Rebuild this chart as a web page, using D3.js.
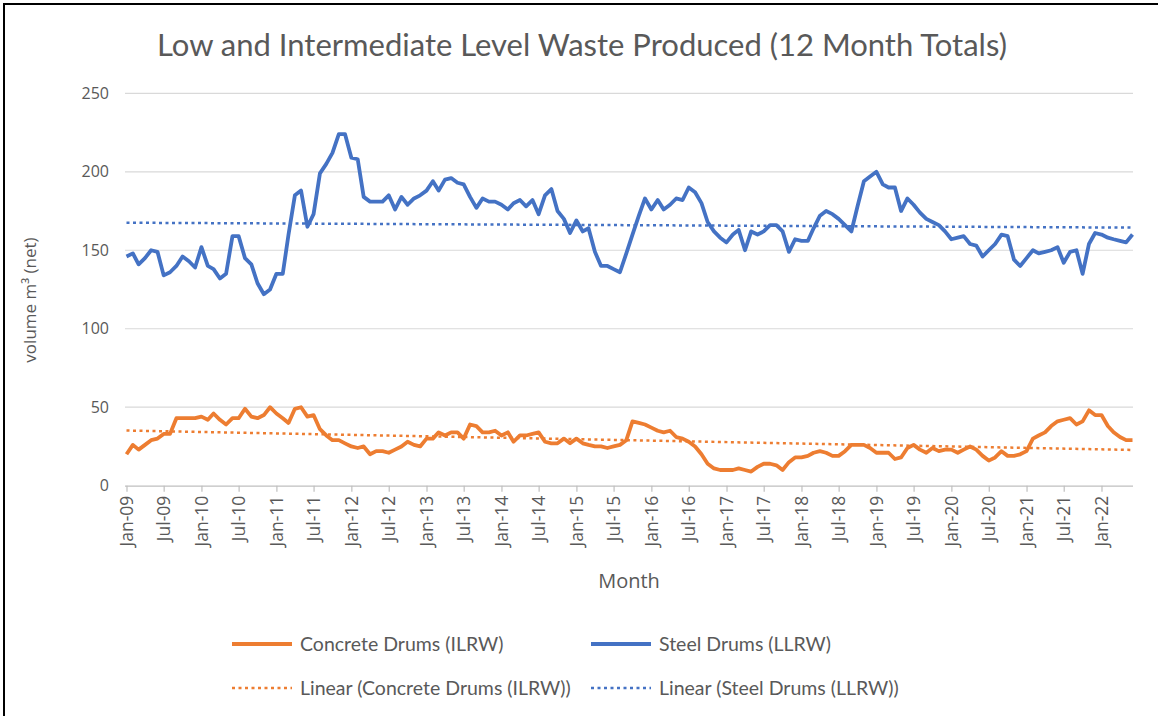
<!DOCTYPE html>
<html>
<head>
<meta charset="utf-8">
<script src="https://cdn.jsdelivr.net/npm/d3@7"></script>
<style>
  body { margin: 0; background: #fff; }
  svg { display: block; font-family: "Open Sans", sans-serif; }
</style>
</head>
<body>
<svg id="chart" width="1158" height="716"></svg>
<script>
// Low and Intermediate Level Waste Produced - 12 month totals, Jan-09 .. Jun-22

const firstMonth = new Date(2009, 0, 1);
const lastMonth = new Date(2022, 5, 1);
const months = d3.timeMonth.range(firstMonth, d3.timeMonth.offset(lastMonth, 1));

// Steel Drums (LLRW), m3 net
const steelDrums = [
  146, 148, 141, 145, 150, 149, 134, 136, 140, 146,
  143, 139, 152, 140, 138, 132, 135, 159, 159, 145,
  141, 129, 122, 125, 135, 135, 160, 185, 188, 165,
  173, 199, 205, 212, 224, 224, 209, 208, 184, 181,
  181, 181, 185, 176, 184, 179, 183, 185, 188, 194,
  188, 195, 196, 193, 192, 184, 177, 183, 181, 181,
  179, 176, 180, 182, 178, 182, 173, 185, 189, 175,
  170, 161, 169, 162, 164, 149, 140, 140, 138, 136,
  148, 160, 172, 183, 176, 182, 176, 179, 183, 182,
  190, 187, 180, 168, 162, 158, 155, 160, 163, 150,
  162, 160, 162, 166, 166, 162, 149, 157, 156, 156,
  164, 172, 175, 173, 170, 166, 162, 178, 194, 197,
  200, 192, 190, 190, 175, 183, 179, 174, 170, 168,
  166, 162, 157, 158, 159, 154, 153, 146, 150, 154,
  160, 159, 144, 140, 145, 150, 148, 149, 150, 152,
  142, 149, 150, 135, 154, 161, 160, 158, 157, 156,
  155, 160
];

// Concrete Drums (ILRW), m3 net
const concreteDrums = [
  20, 26, 23, 26, 29, 30, 33, 33, 43, 43,
  43, 43, 44, 42, 46, 42, 39, 43, 43, 49,
  44, 43, 45, 50, 46, 43, 40, 49, 50, 44,
  45, 36, 32, 29, 29, 27, 25, 24, 25, 20,
  22, 22, 21, 23, 25, 28, 26, 25, 30, 30,
  34, 32, 34, 34, 30, 39, 38, 34, 34, 35,
  32, 34, 28, 32, 32, 33, 34, 28, 27, 27,
  30, 27, 30, 27, 26, 25, 25, 24, 25, 26,
  29, 41, 40, 39, 37, 35, 34, 35, 31, 30,
  28, 25, 20, 14, 11, 10, 10, 10, 11, 10,
  9, 12, 14, 14, 13, 10, 15, 18, 18, 19,
  21, 22, 21, 19, 19, 22, 26, 26, 26, 24,
  21, 21, 21, 17, 18, 24, 26, 23, 21, 24,
  22, 23, 23, 21, 23, 25, 23, 19, 16, 18,
  22, 19, 19, 20, 22, 30, 32, 34, 38, 41,
  42, 43, 39, 41, 48, 45, 45, 38, 34, 31,
  29, 29
];

const yTicks = [0, 50, 100, 150, 200, 250];

const seriesNames = ["Concrete Drums (ILRW)", "Steel Drums (LLRW)"];
const trendNames = ["Linear (Concrete Drums (ILRW))", "Linear (Steel Drums (LLRW))"];
const seriesColors = ["#ED7D31", "#4472C4"];

const svg = d3.select("#chart");

// frame
svg.append("path")
  .attr("d", "M4,716 L4,4 L1158,4")
  .attr("fill", "none")
  .attr("stroke", "#000")
  .attr("stroke-width", 2);

const x = d3.scaleTime().domain([firstMonth, lastMonth]).range([126.5, 1132.5]);
const y = d3.scaleLinear().domain([0, 250]).range([485.7, 93.3]);

// title
svg.append("text")
  .attr("x", 582).attr("y", 56)
  .attr("text-anchor", "middle")
  .style("font-family", "Lato, sans-serif")
  .style("font-size", "31px")
  .style("fill", "#595959")
  .text("Low and Intermediate Level Waste Produced (12 Month Totals)");

// gridlines
svg.append("g")
  .selectAll("line")
  .data(yTicks.filter(d => d > 0))
  .join("line")
  .attr("x1", 125).attr("x2", 1133)
  .attr("y1", d => y(d)).attr("y2", d => y(d))
  .attr("stroke", "#d9d9d9")
  .attr("stroke-width", 1.2);

// y axis labels
const yAxis = svg.append("g")
  .attr("transform", "translate(109,0)")
  .call(d3.axisLeft(y).tickValues(yTicks).tickSize(0).tickPadding(0));
yAxis.select(".domain").remove();
yAxis.selectAll("text")
  .style("font-family", "Open Sans, sans-serif")
  .style("font-size", "16px")
  .style("fill", "#595959");

// x axis
const xTicks = d3.timeMonth.every(6).range(firstMonth, d3.timeMonth.offset(lastMonth, 1));
const xAxis = svg.append("g")
  .attr("transform", "translate(0," + y(0) + ")")
  .call(d3.axisBottom(x).tickValues(xTicks).tickFormat(d3.timeFormat("%b-%y")).tickSize(6).tickSizeOuter(0));
xAxis.select(".domain")
  .attr("d", "M125,0.5H1133")
  .attr("stroke", "#bfbfbf")
  .attr("stroke-width", 1.2);
xAxis.selectAll(".tick line").attr("stroke", "#bfbfbf").attr("stroke-width", 1.2);
xAxis.selectAll("text")
  .attr("transform", "rotate(-90)")
  .attr("text-anchor", "end")
  .attr("x", -10)
  .attr("y", 0)
  .attr("dy", "0.35em")
  .style("font-family", "Open Sans, sans-serif")
  .style("font-size", "17.5px")
  .style("fill", "#595959");

// axis titles
svg.append("text")
  .attr("transform", "translate(36,300) rotate(-90)")
  .attr("text-anchor", "middle")
  .style("font-size", "17px")
  .style("fill", "#595959")
  .text("volume m³ (net)");

svg.append("text")
  .attr("x", 629).attr("y", 588)
  .attr("text-anchor", "middle")
  .style("font-size", "20px")
  .style("fill", "#595959")
  .text("Month");

// linear trend of a series against month index
function linearFit(values) {
  const n = values.length;
  const mx = d3.mean(values, (v, i) => i);
  const my = d3.mean(values);
  let sxy = 0, sxx = 0;
  values.forEach((v, i) => { sxy += (i - mx) * (v - my); sxx += (i - mx) * (i - mx); });
  const slope = sxy / sxx;
  return [0, n - 1].map(i => ({ date: months[i], value: my + slope * (i - mx) }));
}

const line = d3.line().x(d => x(d.date)).y(d => y(d.value));
const allSeries = [concreteDrums, steelDrums];

// trend lines
allSeries.forEach((vals, k) => {
  svg.append("path")
    .datum(linearFit(vals))
    .attr("fill", "none")
    .attr("stroke", seriesColors[k])
    .attr("stroke-width", 2.5)
    .attr("stroke-dasharray", "3,3.5")
    .attr("d", line);
});

// data lines
allSeries.forEach((vals, k) => {
  svg.append("path")
    .datum(vals.map((v, i) => ({ date: months[i], value: v })))
    .attr("fill", "none")
    .attr("stroke", seriesColors[k])
    .attr("stroke-width", 3.8)
    .attr("stroke-linejoin", "round")
    .attr("d", line);
});

// legend
const legendItems = [
  { name: seriesNames[0], color: seriesColors[0], dashed: false, lx: 232, ly: 644 },
  { name: seriesNames[1], color: seriesColors[1], dashed: false, lx: 591, ly: 644 },
  { name: trendNames[0], color: seriesColors[0], dashed: true, lx: 232, ly: 688 },
  { name: trendNames[1], color: seriesColors[1], dashed: true, lx: 591, ly: 688 }
];
const legend = svg.append("g").selectAll("g").data(legendItems).join("g")
  .attr("transform", d => "translate(" + d.lx + "," + d.ly + ")");
legend.append("line")
  .attr("x1", 0).attr("x2", 60)
  .attr("stroke", d => d.color)
  .attr("stroke-width", d => d.dashed ? 2.5 : 3.8)
  .attr("stroke-dasharray", d => d.dashed ? "3,3.5" : null);
legend.append("text")
  .attr("x", 68).attr("dy", "0.35em")
  .style("font-family", "Lato, sans-serif")
  .style("font-size", "19.5px")
  .style("fill", "#595959")
  .text(d => d.name);
</script>
</body>
</html>
